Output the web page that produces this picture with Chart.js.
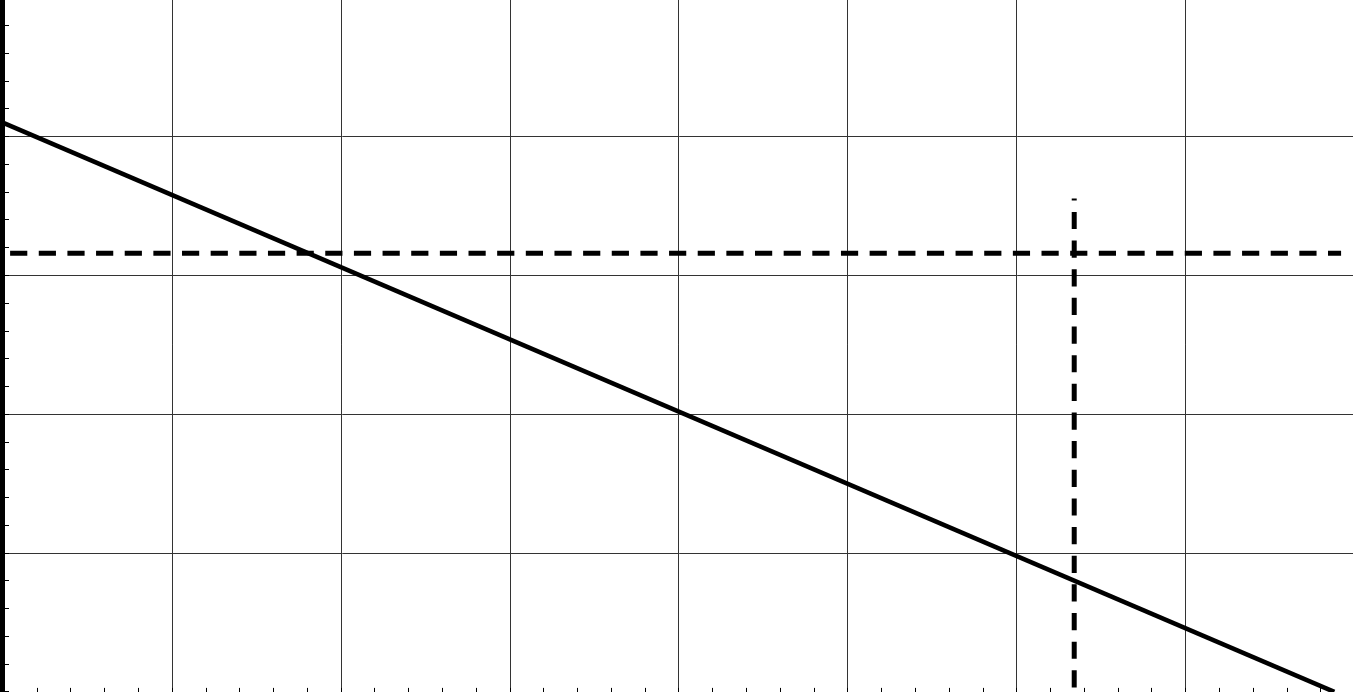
<!DOCTYPE html>
<html>
<head>
<meta charset="utf-8">
<script src="https://cdn.jsdelivr.net/npm/chart.js@4.4.1/dist/chart.umd.min.js"></script>
<style>
  html, body { margin: 0; padding: 0; background: #fff; overflow: hidden; }
  #wrap { position: absolute; left: -20px; top: -20px; width: 1400px; height: 740px; }
</style>
</head>
<body>
<div id="wrap"><canvas id="chart"></canvas></div>
<script>
// sloping line
const lineX = [0, 7.88];
const lineY = [4.1, 0];

// horizontal dashed level
const levelX = [0.04, 7.92];
const levelY = [3.16, 3.16];

// vertical dashed marker
const markX = [6.34, 6.34];
const markY = [3.555, 0];

// axis ticks (minor every 0.2, grid on whole numbers)
const xTicks = [0, 0.2, 0.4, 0.6, 0.8, 1, 1.2, 1.4, 1.6, 1.8, 2, 2.2, 2.4, 2.6, 2.8,
  3, 3.2, 3.4, 3.6, 3.8, 4, 4.2, 4.4, 4.6, 4.8, 5, 5.2, 5.4, 5.6, 5.8,
  6, 6.2, 6.4, 6.6, 6.8, 7, 7.2, 7.4, 7.6, 7.8, 8];
const yTicks = [0, 0.2, 0.4, 0.6, 0.8, 1, 1.2, 1.4, 1.6, 1.8, 2, 2.2, 2.4, 2.6, 2.8,
  3, 3.2, 3.4, 3.6, 3.8, 4, 4.2, 4.4, 4.6, 4.8, 5];

const pts = (xs, ys) => xs.map((x, i) => ({ x, y: ys[i] }));
const isMajor = v => Math.abs(v - Math.round(v)) < 1e-6;
const gridColor = ctx => (ctx.tick && isMajor(ctx.tick.value) && ctx.tick.value !== 0) ? '#333' : 'rgba(0,0,0,0)';

new Chart(document.getElementById('chart'), {
  type: 'scatter',
  data: {
    datasets: [
      {
        data: pts(lineX, lineY),
        showLine: true,
        borderColor: '#000',
        borderWidth: 4.5,
        pointRadius: 0,
      },
      {
        data: pts(levelX, levelY),
        showLine: true,
        borderColor: '#000',
        borderWidth: 5,
        borderDash: [17.2, 11.45],
        pointRadius: 0,
      },
      {
        data: pts(markX, markY),
        showLine: true,
        borderColor: '#000',
        borderWidth: 5,
        borderDash: [17.2, 11.45],
        borderDashOffset: 15.2,
        pointRadius: 0,
      },
    ],
  },
  options: {
    responsive: true,
    maintainAspectRatio: false,
    animation: false,
    layout: { padding: { left: 22, top: 17.9, right: 25.4, bottom: 28.1 } },
    plugins: { legend: { display: false }, tooltip: { enabled: false } },
    scales: {
      x: {
        type: 'linear',
        min: -0.008,
        max: 8,
        afterBuildTicks: s => { s.ticks = xTicks.map(v => ({ value: v })); },
        afterFit: s => { s.height = 0; },
        ticks: { display: false },
        border: { display: false },
        grid: { color: gridColor, lineWidth: 1, tickLength: -4, tickColor: '#000', tickWidth: 1 },
      },
      y: {
        type: 'linear',
        min: 0,
        max: 5,
        afterBuildTicks: s => { s.ticks = yTicks.map(v => ({ value: v })); },
        afterFit: s => { s.width = 0; },
        ticks: { display: false },
        border: { display: true, color: '#000', width: 5 },
        grid: { color: gridColor, lineWidth: 1, tickLength: -7, tickColor: '#000', tickWidth: 1 },
      },
    },
  },
});
</script>
</body>
</html>
